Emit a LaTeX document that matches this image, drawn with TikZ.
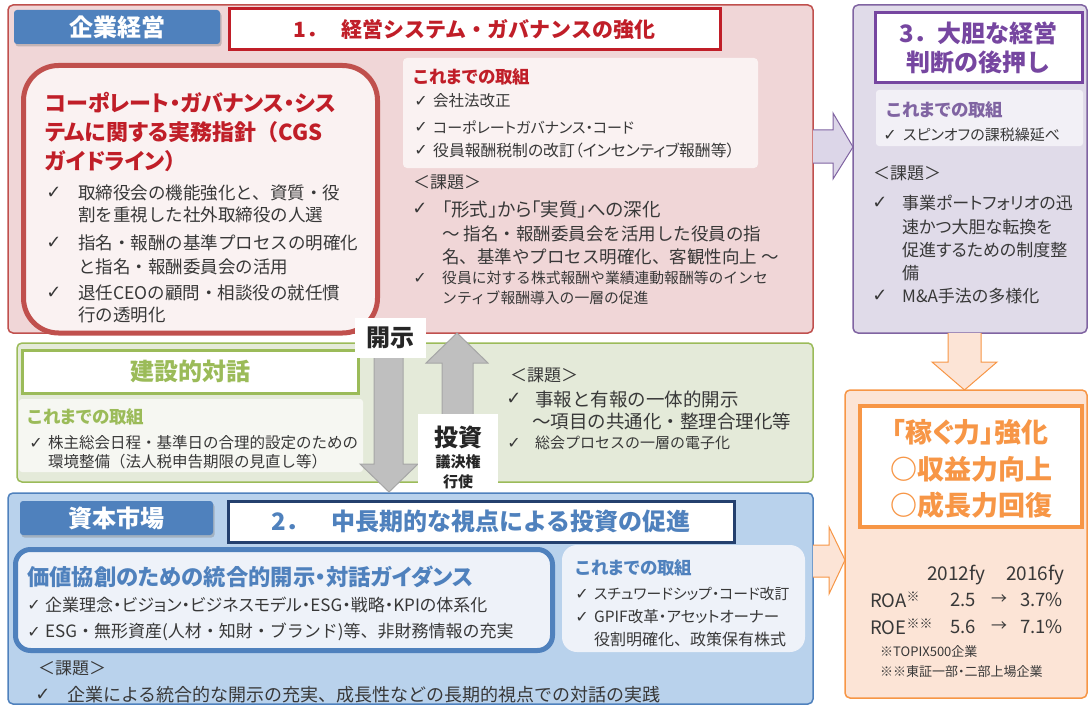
\documentclass[tikz,border=0pt]{standalone}
\usepackage{fontspec}
\setmainfont{Noto Sans CJK JP}[RawFeature=+palt]
\newfontfamily\jf{Noto Sans CJK JP}
\newfontfamily\djv{DejaVu Sans}
\usetikzlibrary{shadows}
\definecolor{tx}{RGB}{56,56,56}
\definecolor{rfill}{RGB}{240,214,215}
\definecolor{rline}{RGB}{192,80,77}
\definecolor{rtext}{RGB}{192,30,40}
\definecolor{rpale}{RGB}{250,242,242}
\definecolor{pfill}{RGB}{224,219,233}
\definecolor{pline}{RGB}{128,100,162}
\definecolor{ptext}{RGB}{118,70,160}
\definecolor{ppale}{RGB}{242,240,246}
\definecolor{gfill}{RGB}{228,234,217}
\definecolor{gline}{RGB}{155,187,89}
\definecolor{gpale}{RGB}{246,247,242}
\definecolor{bfill}{RGB}{185,210,236}
\definecolor{bline}{RGB}{79,129,189}
\definecolor{bdark}{RGB}{36,64,110}
\definecolor{bpale}{RGB}{238,242,249}
\definecolor{ofill}{RGB}{252,228,214}
\definecolor{oline}{RGB}{247,150,70}
\definecolor{afill}{RGB}{191,191,191}
\definecolor{aline}{RGB}{166,166,166}
\definecolor{lav}{RGB}{220,214,232}
\newcommand\fz[1]{\fontsize{#1}{#1}\selectfont}
\begin{document}
\begin{tikzpicture}[x=1pt,y=-1pt,
  tl/.style={anchor=west,inner sep=0pt,text=tx},
  ck/.style={anchor=center,inner sep=0pt,text=tx,font=\djv\fz{18}},
  cks/.style={anchor=center,inner sep=0pt,text=tx,font=\djv\fz{16}},
  hd/.style={anchor=west,inner sep=0pt,font=\bfseries\fz{17.5}},
  tab/.style={fill=bline,text=white,font=\bfseries\fz{24},rounded corners=3pt,inner sep=0pt,drop shadow={shadow xshift=1.5pt,shadow yshift=-2.5pt,opacity=0.4}},
  ttl/.style={fill=white,inner sep=0pt,line width=3pt,font=\bfseries},
  outer/.style={rounded corners=5pt,line width=1.5pt},
  garrow/.style={fill=afill,draw=aline,line width=1pt},
]
\useasboundingbox (0,0) rectangle (1089,706);
% ---------- outer boxes
\draw[outer,draw=rline,fill=rfill] (8,5) rectangle (813,333);
\draw[outer,draw=pline,fill=pfill] (853,5) rectangle (1087,333);
\draw[outer,draw=gline,fill=gfill] (17,343) rectangle (813,482);
\draw[outer,draw=bline,fill=bfill] (8,493) rectangle (813,704);
\draw[outer,draw=oline,fill=ofill] (845,390) rectangle (1087,698);

% ---------- red section
\node[tab,minimum width=206pt,minimum height=34pt] (tabA) at (117,27) {企業経営};
\node[ttl,draw=rtext,text=rtext,font=\jf\bfseries\fz{21},minimum width=491pt,minimum height=41pt] (titleA) at (474.5,29.5) {1．\hspace{14pt}経営システム・ガバナンスの強化};
\draw[rline,fill=rpale,line width=5pt,rounded corners=35pt] (23.5,65.5) rectangle (377.5,333);
\node[hd,text=rtext,font=\bfseries\fz{22}] (cgs1) at (45,103) {コーポレート・ガバナンス・シス};
\node[hd,text=rtext,font=\bfseries\fz{22}] (cgs2) at (45,132) {テムに関する実務指針{\jf （}CGS};
\node[hd,text=rtext,font=\bfseries\fz{22}] (cgs3) at (45,161) {ガイドライン）};
\node[ck] (ca1) at (54,193) {✓};
\node[tl,font=\jf\fz{17.5}] (la1) at (78,193) {取締役会の機能強化と、資質・役};
\node[tl,font=\jf\fz{17.5}] (la2) at (78,215) {割を重視した社外取締役の人選};
\node[ck] (ca2) at (54,243) {✓};
\node[tl,font=\jf\fz{17.5}] (la3) at (78,243) {指名・報酬の基準プロセスの明確化};
\node[tl,font=\jf\fz{17.5}] (la4) at (78,267) {と指名・報酬委員会の活用};
\node[ck] (ca3) at (54,293) {✓};
\node[tl,font=\jf\fz{17.5}] (la5) at (78,293) {退任CEOの顧問・相談役の就任慣};
\node[tl,font=\jf\fz{17.5}] (la6) at (78,315) {行の透明化};

\fill[rpale,rounded corners=4pt] (403,58) rectangle (758,168);
\node[hd,text=rtext] (lbA) at (414,77) {これまでの取組};
\node[cks] (cb1) at (421,101) {✓};
\node[tl,font=\fz{15.5}] (lb1) at (433,101) {会社法改正};
\node[cks] (cb2) at (421,127) {✓};
\node[tl,font=\fz{15}] (lb2) at (433,127) {コーポレートガバナンス・コード};
\node[cks] (cb3) at (421,150) {✓};
\node[tl,font=\fz{15.8}] (lb3) at (433,150) {役員報酬税制の改訂（インセンティブ報酬等）};
\node[tl,font=\fz{17}] (kdA) at (413,182) {＜課題＞};
\node[ck] (cc1) at (420,209) {✓};
\node[tl,font=\fz{18.5}] (lc1) at (442,209) {「形式」から「実質」への深化};
\node[tl,font=\jf\fz{17.5}] (lc2) at (442,234) {～ 指名・報酬委員会を活用した役員の指};
\node[tl,font=\jf\fz{17.5}] (lc3) at (442,257) {名、基準やプロセス明確化、客観性向上 ～};
\node[cks] (cc2) at (420,278) {✓};
\node[tl,font=\jf\fz{14.8}] (lc4) at (442,278) {役員に対する株式報酬や業績連動報酬等のインセ};
\node[tl,font=\jf\fz{14.8}] (lc5) at (442,298) {ンティブ報酬導入の一層の促進};

% ---------- purple section
\node[ttl,draw=ptext,text=ptext,align=center,font=\jf\bfseries\fontsize{24}{29}\selectfont,minimum width=207pt,minimum height=70pt] (titleC) at (978.5,48) {3．大胆な経営\\判断の後押し};
\fill[ppale,rounded corners=3pt] (876,90) rectangle (1083,146);
\node[hd,text=pline] (lbC) at (887,110) {これまでの取組};
\node[cks] (cd1) at (890,135) {✓};
\node[tl,font=\fz{15}] (ld1) at (903,135) {スピンオフの課税繰延べ};
\node[tl,font=\fz{17}] (kdC) at (873,173) {＜課題＞};
\node[ck] (ce1) at (880,203) {✓};
\node[tl,font=\fz{17}] (le1) at (902,203) {事業ポートフォリオの迅};
\node[tl,font=\fz{17}] (le2) at (902,227) {速かつ大胆な転換を};
\node[tl,font=\fz{17}] (le3) at (902,250) {促進するための制度整};
\node[tl,font=\fz{17}] (le4) at (902,273) {備};
\node[ck] (ce2) at (880,296) {✓};
\node[tl,font=\fz{17}] (le5) at (902,296) {M\&A手法の多様化};

% ---------- green section
\node[ttl,draw=gline,text=gline,font=\bfseries\fz{24},minimum width=336pt,minimum height=43pt] (titleG) at (190,371.5) {建設的対話};
\fill[gpale,rounded corners=3pt] (19,399) rectangle (363,472);
\node[hd,text=gline] (lbG) at (28,417) {これまでの取組};
\node[cks] (cf1) at (36,443) {✓};
\node[tl,font=\jf\fz{15.5}] (lf1) at (48,443) {株主総会日程・基準日の合理的設定のための};
\node[tl,font=\jf\fz{15.5}] (lf2) at (48,462) {環境整備（法人税申告期限の見直し等）};
\node[tl,font=\fz{17}] (kdG) at (510,375) {＜課題＞};
\node[ck] (cg1) at (514,399) {✓};
\node[tl,font=\jf\fz{18.5}] (lg1) at (535,399) {事報と有報の一体的開示};
\node[tl,font=\jf\fz{18.5}] (lg2) at (532,421) {～項目の共通化・整理合理化等};
\node[cks] (cg2) at (514,443) {✓};
\node[tl,font=\jf\fz{15}] (lg3) at (535,443) {総会プロセスの一層の電子化};

% ---------- blue section
\node[tab,minimum width=193pt,minimum height=34pt] (tabB) at (116.5,518) {資本市場};
\node[ttl,draw=bdark,text=bline,font=\jf\bfseries\fz{24},minimum width=506pt,minimum height=41pt] (titleB) at (481,521.5) {2．\hspace{22pt}中長期的な視点による投資の促進};
\draw[bline,fill=bpale,line width=5pt,rounded corners=15pt] (15.5,549.5) rectangle (552.5,650.5);
\node[hd,text=bline,font=\bfseries\fz{22.3}] (gdB) at (27,577) {価値協創のための統合的開示・対話ガイダンス};
\node[cks] (ch1) at (34,605) {✓};
\node[tl,font=\fz{17}] (lh1) at (45,605) {企業理念・ビジョン・ビジネスモデル・ESG・戦略・KPIの体系化};
\node[cks] (ch2) at (34,632) {✓};
\node[tl,font=\jf\fz{17}] (lh2) at (45,632) {ESG・無形資産(人材・知財・ブランド)等、非財務情報の充実};
\fill[bpale,rounded corners=15pt] (562,545) rectangle (805,652);
\node[hd,text=bline] (lbB) at (576,568) {これまでの取組};
\node[cks] (ci1) at (582,594) {✓};
\node[tl,font=\fz{14.8}] (li1) at (594,594) {スチュワードシップ・コード改訂};
\node[cks] (ci2) at (582,617) {✓};
\node[tl,font=\fz{15.5}] (li2) at (594,617) {GPIF改革・アセットオーナー};
\node[tl,font=\jf\fz{16}] (li3) at (594,639) {役割明確化、政策保有株式};
\node[tl,font=\fz{17}] (kdB) at (38,668) {＜課題＞};
\node[ck] (cj1) at (43,695) {✓};
\node[tl,font=\jf\fz{18}] (lj1) at (67,695) {企業による統合的な開示の充実、成長性などの長期的視点での対話の実践};

% ---------- orange section
\node[ttl,draw=oline,fill=white,line width=3.5pt,minimum width=222pt,minimum height=121pt] (titleO) at (971,466.5) {};
\node[inner sep=0pt,text=oline,font=\bfseries\fz{27}] (o1) at (970,432) {「稼ぐ力」強化};
\node[inner sep=0pt,text=oline,font=\jf\bfseries\fz{27}] (o2) at (971,469) {○収益力向上};
\node[inner sep=0pt,text=oline,font=\jf\bfseries\fz{27}] (o3) at (971,505) {○成長力回復};
\node[tl,font=\fz{19}] (y1) at (927,575) {2012fy};
\node[tl,font=\fz{19}] (y2) at (1006,575) {2016fy};
\node[tl,font=\fz{18.5}] (roa) at (870,600) {ROA\textsuperscript{※}};
\node[tl,font=\fz{18.5}] (roa1) at (950,600) {2.5};
\node[tl,font=\fz{16}] (roa2) at (991,600) {→};
\node[tl,font=\fz{18.5}] (roa3) at (1020,600) {3.7\%};
\node[tl,font=\fz{18.5}] (roe) at (870,627) {ROE\textsuperscript{※※}};
\node[tl,font=\fz{18.5}] (roe1) at (950,627) {5.6};
\node[tl,font=\fz{16}] (roe2) at (991,627) {→};
\node[tl,font=\fz{18.5}] (roe3) at (1020,627) {7.1\%};
\node[tl,font=\fz{13}] (nt1) at (880,652) {※TOPIX500企業};
\node[tl,font=\fz{13}] (nt2) at (880,672) {※※東証一部・二部上場企業};

% ---------- block arrows
\fill[lav] (813,130) -- (833,130) -- (833,113) -- (853,147) -- (833,179) -- (833,163) -- (813,163) -- cycle;
\draw[pline,line width=1pt] (813,130) -- (833,130) -- (833,113) -- (853,147) -- (833,179) -- (833,163) -- (813,163);
\fill[ofill] (813,545) -- (829,545) -- (829,527) -- (845,560) -- (829,594) -- (829,577) -- (813,577) -- cycle;
\draw[oline,line width=1pt] (813,545) -- (829,545) -- (829,527) -- (845,560) -- (829,594) -- (829,577) -- (813,577);
\fill[ofill] (948,333) -- (948,362) -- (932,362) -- (964.5,390) -- (997,362) -- (981,362) -- (981,333) -- cycle;
\draw[oline,line width=1pt] (948,333) -- (948,362) -- (932,362) -- (964.5,390) -- (997,362) -- (981,362) -- (981,333);
\draw[garrow] (374,340) -- (403,340) -- (403,464) -- (418,464) -- (389,492) -- (360,464) -- (374,464) -- cycle;
\draw[garrow] (442,430) -- (442,363) -- (426,363) -- (457,333) -- (488,363) -- (473,363) -- (473,430) -- cycle;

% ---------- labels on arrows
\node[fill=white,inner sep=0pt,minimum width=71pt,minimum height=40pt,font=\bfseries\fz{24},text=black!85] (kaiji) at (390.5,338) {開示};
\node[fill=white,inner sep=0pt,minimum width=80pt,minimum height=76pt] (toshi) at (458,452) {};
\node[inner sep=0pt,font=\bfseries\fz{24},text=black!85] (toshiA) at (458,437) {投資};
\node[inner sep=0pt,font=\bfseries\fz{15},text=black!85] (toshiB) at (458,462) {議決権};
\node[inner sep=0pt,font=\bfseries\fz{15},text=black!85] (toshiC) at (458,482) {行使};
\end{tikzpicture}
\end{document}
